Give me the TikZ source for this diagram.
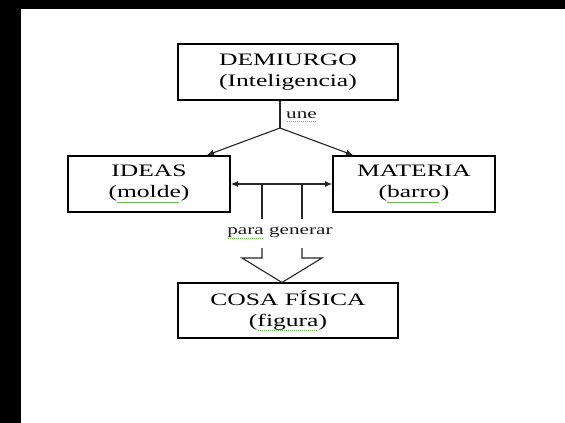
\documentclass[tikz,border=0pt]{standalone}
\usepackage{fontspec}
\setmainfont{Liberation Serif}[FakeStretch=1.46]
\usetikzlibrary{arrows.meta}
\definecolor{squig}{RGB}{110,185,85}
\newcommand\gsq[1]{\sbox0{#1}\rlap{\raisebox{-0.27em}{\textcolor{squig}{\leaders\hbox to 2pt{\hss\rule{1.2pt}{0.9pt}\hss}\hskip\wd0}}}\usebox0}
\begin{document}
\begin{tikzpicture}[x=1pt,y=-1pt,
  box/.style={draw=black, line width=1.8pt, fill=white, inner sep=0pt, align=center,
    font=\fontsize{17.5}{21}\selectfont, text=black},
  conn/.style={draw=black!85, line width=1.1pt},
  tip/.style={-{Latex[length=7pt,width=6pt]}},
  lbl/.style={font=\fontsize{14.5}{17}\selectfont, inner sep=0pt, text=black!90}]
\useasboundingbox (0,0) rectangle (565,423);
\fill[black] (0,0) rectangle (565,423);
\fill[white] (21,9) rectangle (565,423);

\node[box, minimum width=220pt, minimum height=56pt] (dem) at (288,72) {DEMIURGO\\(Inteligencia)};
\node[box, minimum width=162pt, minimum height=56pt] (ide) at (149,184) {IDEAS\\(\gsq{molde})};
\node[box, minimum width=162pt, minimum height=56pt] (mat) at (414,184) {MATERIA\\(\gsq{barro})};
\node[box, minimum width=220pt, minimum height=55pt] (cos) at (288,310.5) {COSA FÍSICA\\(\gsq{figura})};

\coordinate (j) at (280,128);
\draw[conn] (dem.south -| j) -- (j);
\draw[conn, tip] (j) -- (ide.north -| 207,0);
\draw[conn, tip] (j) -- (mat.north -| 353,0);
\node[lbl, anchor=west] (une) at (286,117) {\gsq{une}};

\draw[conn, {Latex[length=7pt,width=6pt]}-{Latex[length=7pt,width=6pt]}] (ide.east) -- (mat.west);

\coordinate (a1) at (262,184);
\coordinate (a2) at (302,184);
\draw[conn] (a1) -- (262,219);
\draw[conn] (a2) -- (302,219);
\node[lbl] (pg) at (280,233) {\gsq{para} generar};
\coordinate (tipc) at (282,282.5);
\draw[conn, line join=miter] (262,248) -- (262,258) -- (242,258) -- (tipc) -- (322,258) -- (302,258) -- (302,248);
\end{tikzpicture}
\end{document}
